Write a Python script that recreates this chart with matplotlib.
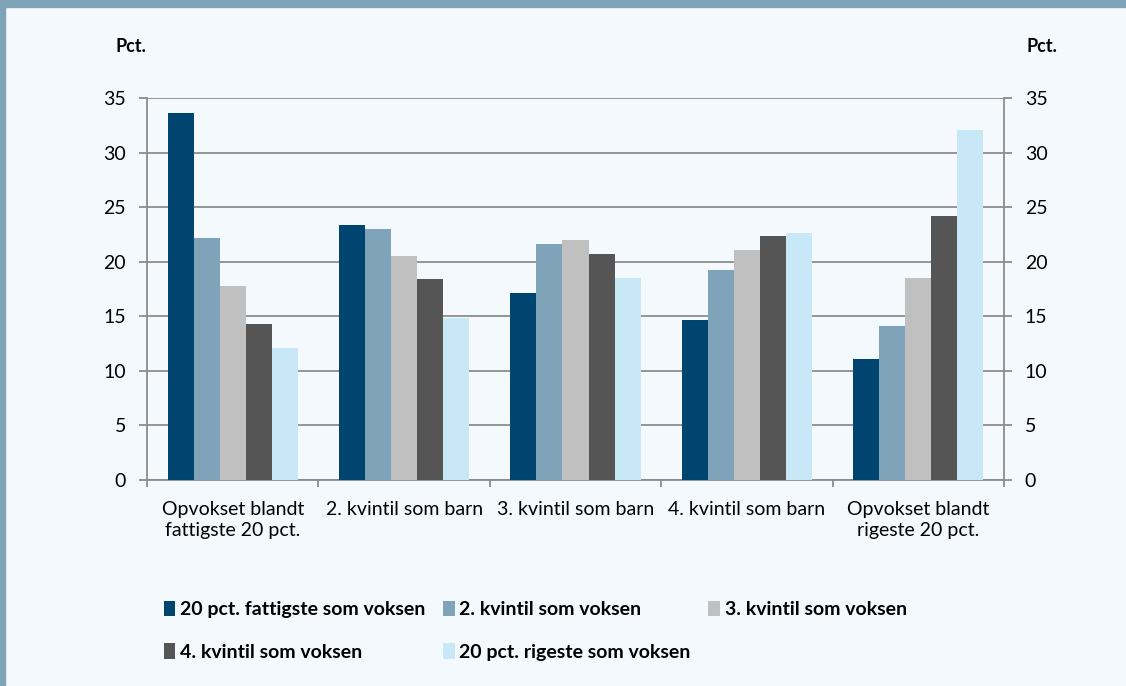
import numpy as np
import matplotlib.pyplot as plt
from matplotlib.patches import Rectangle
from matplotlib.ticker import FixedLocator, MultipleLocator

plt.rcParams['font.family'] = ['Lato', 'DejaVu Sans']

categories = ["Opvokset blandt\nfattigste 20 pct.", "2. kvintil som barn",
              "3. kvintil som barn", "4. kvintil som barn",
              "Opvokset blandt\nrigeste 20 pct."]
series_names = ["20 pct. fattigste som voksen", "2. kvintil som voksen",
                "3. kvintil som voksen", "4. kvintil som voksen",
                "20 pct. rigeste som voksen"]
fattigste = [33.6, 23.4, 17.1, 14.7, 11.1]
kvintil2 = [22.2, 23.0, 21.6, 19.2, 14.1]
kvintil3 = [17.8, 20.5, 22.0, 21.1, 18.5]
kvintil4 = [14.3, 18.4, 20.7, 22.4, 24.2]
rigeste = [12.1, 14.8, 18.5, 22.6, 32.1]
series = [fattigste, kvintil2, kvintil3, kvintil4, rigeste]
colors = ["#004470", "#7fa3b8", "#c0c0c0", "#555555", "#c8e8f8"]

bg = "#f4f9fd"
frame = "#7fa3b8"
grid = "#8c8c8c"

fig = plt.figure(figsize=(11.26, 6.86), dpi=100, facecolor=bg)
# frame: top band and left edge
fig.patches.append(Rectangle((0, 1 - 7 / 686), 1, 7 / 686, transform=fig.transFigure,
                             color=frame, zorder=0))
fig.patches.append(Rectangle((0, 0), 5 / 1126, 1, transform=fig.transFigure,
                             color=frame, zorder=0))

ax = fig.add_axes([147 / 1126, 1 - 480 / 686, (1004 - 147) / 1126, (480 - 98) / 686])
ax.set_facecolor(bg)

x = np.arange(len(categories))
w = 0.152
for i, (vals, c, name) in enumerate(zip(series, colors, series_names)):
    ax.bar(x + (i - 2) * w, vals, w, color=c, label=name, zorder=3)

ax.set_xlim(-0.5, 4.5)
ax.set_ylim(0, 35)
ax.yaxis.set_major_locator(MultipleLocator(5))
ax.grid(axis='y', color=grid, linewidth=1.3, zorder=0)
ax.set_axisbelow(True)

ax.set_xticks(x)
ax.set_xticklabels(categories, fontsize=14, linespacing=1.3)
ax.tick_params(axis='x', which='major', length=0, pad=15)
ax.xaxis.set_minor_locator(FixedLocator(np.arange(-0.5, 5, 1)))
ax.tick_params(axis='x', which='minor', length=5, width=1.3, color=grid, direction='out')

ax.tick_params(axis='y', length=6, width=1.3, color=grid, labelsize=14, pad=9,
               left=True, right=True, labelleft=True, labelright=True)

for side in ['left', 'right', 'bottom']:
    ax.spines[side].set_color(grid)
    ax.spines[side].set_linewidth(1.3)
ax.spines['top'].set_visible(False)

fig.text(131 / 1126, 1 - 47 / 686, "Pct.", fontsize=13, fontweight='bold',
         ha='center', va='center')
fig.text(1042 / 1126, 1 - 47 / 686, "Pct.", fontsize=13, fontweight='bold',
         ha='center', va='center')

# legend, row-wise order in three columns
handles, labels = ax.get_legend_handles_labels()
order = [0, 3, 1, 4, 2]
leg = fig.legend([handles[i] for i in order], [labels[i] for i in order],
                 ncol=3, loc='upper left', bbox_to_anchor=(146 / 1126, 1 - 583 / 686),
                 frameon=False, handlelength=0.6, handleheight=0.85, handletextpad=0.25,
                 columnspacing=0.9, labelspacing=1.3,
                 prop={'weight': 'bold', 'size': 14})

fig.savefig("out.png", dpi=100, facecolor=bg)
